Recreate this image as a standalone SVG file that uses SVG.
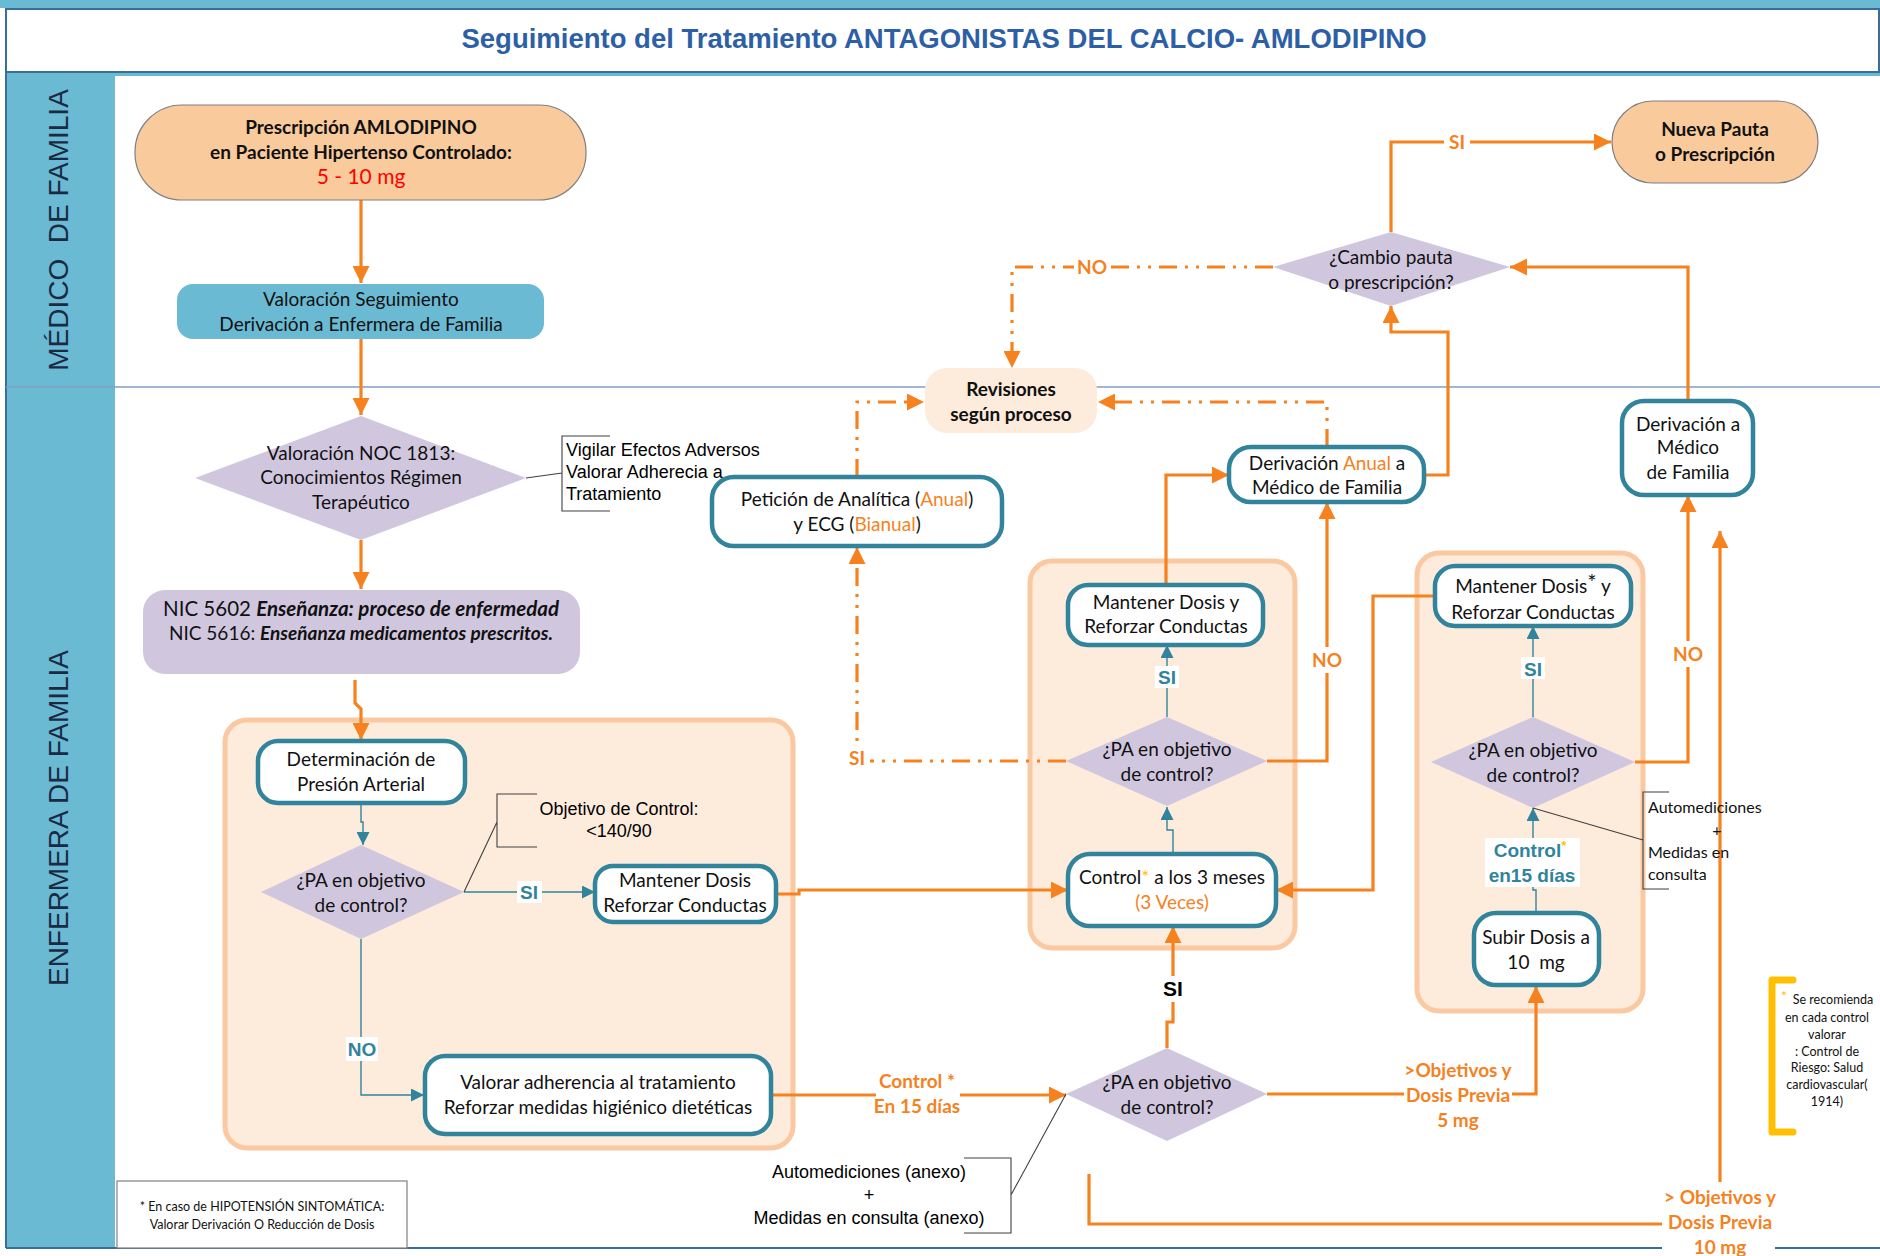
<svg xmlns="http://www.w3.org/2000/svg" width="1880" height="1256" viewBox="0 0 1880 1256">
<defs>
<style>
.n{font-family:Lato,"Liberation Sans",sans-serif;fill:#111;text-anchor:middle}
.b{font-weight:bold}
.a{font-family:"Liberation Sans",Arial,sans-serif}
.ol{font-family:Lato,"Liberation Sans",sans-serif;font-weight:bold;fill:#F5821F;text-anchor:middle;font-size:19px}
.tl{font-family:"Liberation Sans",Arial,sans-serif;font-weight:bold;fill:#31849B;text-anchor:middle;font-size:19px}
.box{fill:#fff;stroke:#31849B;stroke-width:4.5}
.dia{fill:#D0C7DF}
.grp{fill:#FDEBDC;stroke:#FBC9A1;stroke-width:5}
.stad{fill:#F9CB9C;stroke:#7F7F7F;stroke-width:1.2}
.co{fill:none;stroke:#F5821F;stroke-width:3.2}
.ct{fill:none;stroke:#31849B;stroke-width:1.4}
.dd{stroke-dasharray:18 8 3 8 3 8}
.ann{fill:none;stroke:#404040;stroke-width:1.1}
.wb{fill:#fff}
</style>
<marker id="ao" viewBox="0 0 10 10" refX="10" refY="5" markerWidth="17" markerHeight="17" markerUnits="userSpaceOnUse" orient="auto"><path d="M0,0 L10,5 L0,10 z" fill="#F5821F"/></marker>
<marker id="at" viewBox="0 0 10 10" refX="10" refY="5" markerWidth="13" markerHeight="13" markerUnits="userSpaceOnUse" orient="auto"><path d="M0,0 L10,5 L0,10 z" fill="#31849B"/></marker>
</defs>

<!-- frame -->
<rect x="0" y="0" width="1880" height="1256" fill="#fff"/>
<rect x="0" y="0" width="1880" height="8" fill="#6BBAD3"/>
<rect x="6" y="9" width="1873" height="63" fill="#fff" stroke="#3A6E9A" stroke-width="2"/>
<rect x="6" y="73" width="1874" height="3" fill="#6BBAD3"/>
<rect x="6" y="76" width="109" height="1171" fill="#6BBAD3"/>
<line x1="6" y1="9" x2="6" y2="1248" stroke="#3A6E9A" stroke-width="2"/>
<line x1="6" y1="387" x2="1880" y2="387" stroke="#7F9FC4" stroke-width="1.5"/>
<line x1="6" y1="1248" x2="1880" y2="1248" stroke="#3A6E9A" stroke-width="2"/>
<text x="944" y="48" class="a b" font-size="27.5" fill="#2D5FA6" text-anchor="middle">Seguimiento del Tratamiento ANTAGONISTAS DEL CALCIO- AMLODIPINO</text>
<text transform="translate(68,230) rotate(-90)" class="a" font-size="28" fill="#1B2A44" text-anchor="middle" xml:space="preserve">MÉDICO  DE FAMILIA</text>
<text transform="translate(68,818) rotate(-90)" class="a" font-size="28" fill="#1B2A44" text-anchor="middle">ENFERMERA DE FAMILIA</text>

<!-- group backgrounds -->
<rect id="grupo1" class="grp" x="225" y="720" width="568" height="428" rx="22"/>
<rect id="grupo2" class="grp" x="1030" y="561" width="265" height="387" rx="22"/>
<rect id="grupo3" class="grp" x="1417" y="553" width="226" height="458" rx="22"/>

<!-- connectors -->
<g id="connectors">
<path class="co" d="M361,200 V283" marker-end="url(#ao)"/>
<path class="co" d="M361,339 V415" marker-end="url(#ao)"/>
<path class="co" d="M361,540 V589" marker-end="url(#ao)"/>
<path class="co" d="M355,680 V703 L361,709 V740" marker-end="url(#ao)"/>
<path class="ct" d="M361,802 V822 H363 V845" marker-end="url(#at)"/>
<path class="ct" d="M464,892 H595" marker-end="url(#at)"/>
<path class="ct" d="M361,939 V1095 H424" marker-end="url(#at)"/>
<path class="co" d="M771,1095 H1066" marker-end="url(#ao)"/>
<path class="co" d="M776,894 H799 V890 H1068" marker-end="url(#ao)"/>
<path class="co" d="M1167,1048 V1022 H1173 V926" marker-end="url(#ao)"/>
<path class="ct" d="M1173,854 V830 H1167 V807" marker-end="url(#at)"/>
<path class="ct" d="M1167,717 V645" marker-end="url(#at)"/>
<path class="co" d="M1166,585 V475 H1229" marker-end="url(#ao)"/>
<path class="co" d="M1267,761 H1327 V502" marker-end="url(#ao)"/>
<path class="co dd" d="M1327,447 V402 H1098" marker-end="url(#ao)"/>
<path class="co dd" d="M1066,761 H857 V547" marker-end="url(#ao)"/>
<path class="co dd" d="M857,477 V402 H924" marker-end="url(#ao)"/>
<path class="co dd" d="M1273,267 H1012 V368" marker-end="url(#ao)"/>
<path class="co" d="M1391,232 V142 H1611" marker-end="url(#ao)"/>
<path class="co" d="M1424,475 H1448 V332 H1391 V306" marker-end="url(#ao)"/>
<path class="co" d="M1688,401 V267 H1510" marker-end="url(#ao)"/>
<path class="co" d="M1436,596 H1373 V890 H1276" marker-end="url(#ao)"/>
<path class="ct" d="M1533,717 V626" marker-end="url(#at)"/>
<path class="co" d="M1635,762 H1688 V495" marker-end="url(#ao)"/>
<path class="ct" d="M1536,913 V890 H1533 V808" marker-end="url(#at)"/>
<path class="co" d="M1267,1094 H1536 V986" marker-end="url(#ao)"/>
<path class="co" d="M1089,1174 V1224 H1720 V531" marker-end="url(#ao)"/>

<!-- connector labels -->
<rect class="wb" x="517" y="881" width="25" height="22"/>
<text class="tl" x="529" y="899">SI</text>
<rect class="wb" x="346" y="1037" width="32" height="24"/>
<text class="tl" x="362" y="1056">NO</text>
<rect class="wb" x="876" y="1068" width="84" height="52"/>
<text class="ol" x="917" y="1088">Control *</text>
<text class="ol" x="917" y="1113">En 15 días</text>
<rect class="wb" x="1159" y="976" width="28" height="26"/>
<text class="a b" x="1173" y="996" font-size="21" text-anchor="middle">SI</text>
<rect class="wb" x="1155" y="666" width="24" height="22"/>
<text class="tl" x="1167" y="684">SI</text>
<rect class="wb" x="1310" y="647" width="34" height="26"/>
<text class="ol" x="1327" y="667">NO</text>
<rect class="wb" x="844" y="746" width="26" height="24"/>
<text class="ol" x="857" y="765">SI</text>
<rect class="wb" x="1074" y="255" width="36" height="24"/>
<text class="ol" x="1092" y="274">NO</text>
<rect class="wb" x="1444" y="130" width="26" height="24"/>
<text class="ol" x="1457" y="149">SI</text>
<rect class="wb" x="1521" y="657" width="24" height="22"/>
<text class="tl" x="1533" y="676">SI</text>
<rect class="wb" x="1670" y="641" width="36" height="26"/>
<text class="ol" x="1688" y="661">NO</text>
<rect class="wb" x="1485" y="838" width="95" height="49"/>
<text class="tl" x="1530" y="857">Control<tspan style="fill:#FFC000;font-size:13px" dy="-7">*</tspan></text>
<text class="tl" x="1532" y="882">en15 días</text>
<rect class="wb" x="1404" y="1057" width="108" height="76"/>
<text class="ol" x="1458" y="1077">&gt;Objetivos y</text>
<text class="ol" x="1458" y="1102">Dosis Previa</text>
<text class="ol" x="1458" y="1127">5 mg</text>
<rect class="wb" x="1662" y="1182" width="113" height="74"/>
<text class="ol" x="1720" y="1204">&gt; Objetivos y</text>
<text class="ol" x="1720" y="1229">Dosis Previa</text>
<text class="ol" x="1720" y="1254">10 mg</text>
</g>

<!-- nodes -->
<g font-size="19">
<g id="prescripcion">
<rect class="stad" x="135" y="105" width="451" height="95" rx="47"/>
<text class="n b" x="361" y="134">Prescripción AMLODIPINO</text>
<text class="n b" x="361" y="159">en Paciente Hipertenso Controlado:</text>
<text class="n" x="361" y="184" style="fill:#FF0000;font-size:21px">5 - 10 mg</text>
</g>
<g id="valoracion-seguimiento">
<rect x="177" y="284" width="367" height="55" rx="16" fill="#6BBAD3"/>
<text class="n" x="361" y="306">Valoración Seguimiento</text>
<text class="n" x="361" y="331">Derivación a Enfermera de Familia</text>
</g>
<g id="noc1813">
<polygon class="dia" points="361,416 526,478 361,540 195,478"/>
<text class="n" x="361" y="460">Valoración NOC 1813:</text>
<text class="n" x="361" y="484">Conocimientos Régimen</text>
<text class="n" x="361" y="509">Terapéutico</text>
</g>
<g id="nota-vigilar">
<path class="ann" d="M610,436 H562 V511 H610 M526,478 L562,473"/>
<text class="a" x="566" y="456" font-size="18">Vigilar Efectos Adversos</text>
<text class="a" x="566" y="478" font-size="18">Valorar Adherecia a</text>
<text class="a" x="566" y="500" font-size="18">Tratamiento</text>
</g>
<g id="nic">
<rect x="143" y="590" width="437" height="84" rx="22" fill="#D0C7DF"/>
<text class="n" x="361" y="616" style="font-size:20.5px">NIC 5602 <tspan font-weight="bold" font-style="italic">Enseñanza: proceso de enfermedad</tspan></text>
<text class="n" x="361" y="640">NIC 5616: <tspan font-weight="bold" font-style="italic">Enseñanza medicamentos prescritos.</tspan></text>
</g>
<g id="determinacion">
<rect class="box" x="258" y="741" width="207" height="62" rx="20"/>
<text class="n" x="361" y="766">Determinación de</text>
<text class="n" x="361" y="791">Presión Arterial</text>
</g>
<g id="pa1">
<polygon class="dia" points="361,845 464,892 361,939 261,892"/>
<text class="n" x="361" y="887">¿PA en objetivo</text>
<text class="n" x="361" y="912">de control?</text>
</g>
<g id="nota-objetivo">
<path class="ann" d="M537,794 H497 V847 H537 M464,892 L497,822"/>
<text class="a" x="619" y="815" font-size="18" text-anchor="middle">Objetivo de Control:</text>
<text class="a" x="619" y="837" font-size="18" text-anchor="middle">&lt;140/90</text>
</g>
<g id="mantener1">
<rect class="box" x="595" y="866" width="181" height="56" rx="18"/>
<text class="n" x="685" y="887">Mantener Dosis</text>
<text class="n" x="685" y="912">Reforzar Conductas</text>
</g>
<g id="valorar-adherencia">
<rect class="box" x="425" y="1056" width="346" height="78" rx="20"/>
<text class="n" x="598" y="1089">Valorar adherencia al tratamiento</text>
<text class="n" x="598" y="1114">Reforzar medidas higiénico dietéticas</text>
</g>
<g id="pa4">
<polygon class="dia" points="1167,1048 1267,1094 1167,1141 1066,1094"/>
<text class="n" x="1167" y="1089">¿PA en objetivo</text>
<text class="n" x="1167" y="1114">de control?</text>
</g>
<g id="nota-automediciones">
<path class="ann" d="M964,1158 H1011 V1233 H964 M1011,1195 L1066,1094"/>
<text class="a" x="869" y="1178" font-size="18" text-anchor="middle">Automediciones (anexo)</text>
<text class="a" x="869" y="1201" font-size="18" text-anchor="middle">+</text>
<text class="a" x="869" y="1224" font-size="18" text-anchor="middle">Medidas en consulta (anexo)</text>
</g>
<g id="control3meses">
<rect class="box" x="1068" y="854" width="208" height="72" rx="22"/>
<text class="n" x="1172" y="884">Control<tspan style="fill:#FFC000">*</tspan> a los 3 meses</text>
<text class="n" x="1172" y="909" style="fill:#F5821F">(3 Veces)</text>
</g>
<g id="pa3">
<polygon class="dia" points="1167,717 1267,761 1167,806 1066,761"/>
<text class="n" x="1167" y="756">¿PA en objetivo</text>
<text class="n" x="1167" y="781">de control?</text>
</g>
<g id="mantener2">
<rect class="box" x="1068" y="585" width="195" height="60" rx="20"/>
<text class="n" x="1166" y="609">Mantener Dosis y</text>
<text class="n" x="1166" y="633">Reforzar Conductas</text>
</g>
<g id="derivacion-anual">
<rect class="box" x="1229" y="447" width="195" height="55" rx="22"/>
<text class="n" x="1327" y="470">Derivación <tspan style="fill:#F5821F">Anual</tspan> a</text>
<text class="n" x="1327" y="494">Médico de Familia</text>
</g>
<g id="peticion">
<rect class="box" x="712" y="477" width="290" height="69" rx="22"/>
<text class="n" x="857" y="506">Petición de Analítica (<tspan style="fill:#F5821F">Anual</tspan>)</text>
<text class="n" x="857" y="531">y ECG (<tspan style="fill:#F5821F">Bianual</tspan>)</text>
</g>
<g id="revisiones">
<rect x="925" y="368" width="172" height="65" rx="22" fill="#FDEBDC"/>
<text class="n b" x="1011" y="396">Revisiones</text>
<text class="n b" x="1011" y="421">según proceso</text>
</g>
<g id="cambio-pauta">
<polygon class="dia" points="1391,232 1510,267 1391,306 1273,267"/>
<text class="n" x="1391" y="264">¿Cambio pauta</text>
<text class="n" x="1391" y="289">o prescripción?</text>
</g>
<g id="nueva-pauta">
<rect class="stad" x="1612" y="101" width="206" height="82" rx="41"/>
<text class="n b" x="1715" y="136">Nueva Pauta</text>
<text class="n b" x="1715" y="161">o Prescripción</text>
</g>
<g id="derivacion-medico">
<rect class="box" x="1622" y="401" width="131" height="94" rx="22"/>
<text class="n" x="1688" y="431">Derivación a</text>
<text class="n" x="1688" y="454">Médico</text>
<text class="n" x="1688" y="479">de Familia</text>
</g>
<g id="mantener3">
<rect class="box" x="1435" y="566" width="196" height="60" rx="20"/>
<text class="n" x="1533" y="593">Mantener Dosis<tspan style="font-size:22px" dy="-3">*</tspan><tspan dy="3"> y</tspan></text>
<text class="n" x="1533" y="619">Reforzar Conductas</text>
</g>
<g id="pa5">
<polygon class="dia" points="1533,717 1635,762 1533,808 1431,762"/>
<text class="n" x="1533" y="757">¿PA en objetivo</text>
<text class="n" x="1533" y="782">de control?</text>
</g>
<g id="nota-automediciones2">
<path class="ann" d="M1669,792 H1643 V889 H1669 M1533,808 L1643,840"/>
<text class="n" x="1648" y="813" style="font-size:16px;text-anchor:start">Automediciones</text>
<text class="n" x="1717" y="836" style="font-size:16px">+</text>
<text class="n" x="1648" y="858" style="font-size:16px;text-anchor:start">Medidas en</text>
<text class="n" x="1648" y="880" style="font-size:16px;text-anchor:start">consulta</text>
</g>
<g id="subir-dosis">
<rect class="box" x="1474" y="913" width="125" height="72" rx="22"/>
<text class="n" x="1536" y="944">Subir Dosis a</text>
<text class="n" x="1536" y="969" xml:space="preserve">10  mg</text>
</g>
<g id="nota-recomienda">
<path d="M1793,980 H1772 V1132 H1793" fill="none" stroke="#FFC000" stroke-width="7" stroke-linecap="round" stroke-linejoin="round"/>
<text x="1784" y="1001" font-family="Lato,sans-serif" font-size="14" fill="#FFC000" text-anchor="middle">*</text>
<text class="n" x="1833" y="1004" style="font-size:12.5px">Se recomienda</text>
<text class="n" x="1827" y="1022" style="font-size:12.5px">en cada control</text>
<text class="n" x="1827" y="1039" style="font-size:12.5px">valorar</text>
<text class="n" x="1827" y="1056" style="font-size:12.5px">: Control de</text>
<text class="n" x="1827" y="1072" style="font-size:12.5px">Riesgo: Salud</text>
<text class="n" x="1827" y="1089" style="font-size:12.5px">cardiovascular(</text>
<text class="n" x="1827" y="1106" style="font-size:12.5px">1914)</text>
</g>
<g id="nota-hipotension">
<rect x="117" y="1181" width="290" height="67" fill="#fff" stroke="#808080" stroke-width="1.2"/>
<text class="n" x="262" y="1211" style="font-size:12.5px">* En caso de HIPOTENSIÓN SINTOMÁTICA:</text>
<text class="n" x="262" y="1229" style="font-size:12.5px">Valorar Derivación O Reducción de Dosis</text>
</g>
</g>
</svg>
